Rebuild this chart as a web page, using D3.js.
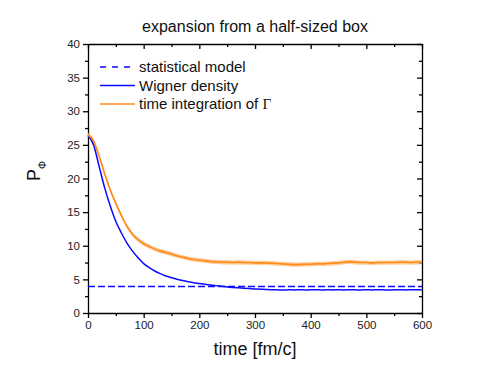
<!DOCTYPE html>
<meta charset="utf-8">
<title>expansion from a half-sized box</title>
<style>
body { margin: 0; background: #fff; }
svg { font-family: "Liberation Sans", Arial, Helvetica, sans-serif; }
.axis path, .axis line { stroke: #000; stroke-width: 1.3px; }
.axis text { font-size: 11.5px; fill: #222; font-family: "Liberation Sans", Arial, sans-serif; }
</style>
<svg id="chart" width="491" height="376"></svg>
<script src="https://cdn.jsdelivr.net/npm/d3@7"></script>
<script>

// time grid in fm/c (every 10 fm/c)
var times = d3.range(0, 601, 10);

// Wigner density (blue)
var wigner = [26.4, 25.0, 21.8, 18.6, 15.9, 13.6, 11.9, 10.4, 9.2, 8.2,
              7.35, 6.75, 6.25, 5.85, 5.5, 5.25, 5.02, 4.82, 4.65, 4.5,
              4.38, 4.27, 4.17, 4.07, 3.98, 3.88, 3.8, 3.74, 3.68, 3.63,
              3.58, 3.55, 3.5, 3.47, 3.45, 3.42, 3.45, 3.43, 3.46, 3.42,
              3.44, 3.47, 3.42, 3.45, 3.43, 3.47, 3.42, 3.46, 3.44, 3.42,
              3.46, 3.43, 3.47, 3.44, 3.42, 3.45, 3.47, 3.43, 3.45, 3.44, 3.45];

// time integration of Gamma (orange)
var gammaInt = [26.5, 25.6, 23.3, 20.7, 18.3, 16.3, 14.5, 12.9, 11.7, 10.9,
                10.3, 9.9, 9.5, 9.2, 9.0, 8.75, 8.5, 8.3, 8.1, 7.95,
                7.85, 7.75, 7.65, 7.6, 7.55, 7.55, 7.5, 7.55, 7.5, 7.5,
                7.45, 7.45, 7.45, 7.4, 7.35, 7.3, 7.25, 7.2, 7.2, 7.25,
                7.25, 7.3, 7.3, 7.35, 7.4, 7.45, 7.55, 7.6, 7.55, 7.5,
                7.5, 7.45, 7.5, 7.5, 7.5, 7.5, 7.55, 7.55, 7.5, 7.55, 7.55];
var gammaErr = 0.32;

// statistical model (constant)
var statModel = 3.95;

var xTicks = [0, 100, 200, 300, 400, 500, 600];
var yTicks = [0, 5, 10, 15, 20, 25, 30, 35, 40];

var svg = d3.select("#chart"),
    x0 = 88, x1 = 422, yTop = 44, yBottom = 313;

var x = d3.scaleLinear().domain([0, 600]).range([x0, x1]);
var y = d3.scaleLinear().domain([0, 40]).range([yBottom, yTop]);

var xMinor = d3.range(50, 600, 100);
var yMinor = d3.range(2.5, 40, 5);

// minor ticks
svg.append("g").attr("class", "axis").attr("transform", "translate(0," + yBottom + ")")
    .call(d3.axisBottom(x).tickValues(xMinor).tickSize(3).tickFormat(""))
    .select(".domain").remove();
svg.append("g").attr("class", "axis").attr("transform", "translate(0," + yTop + ")")
    .call(d3.axisTop(x).tickValues(xMinor).tickSize(-3).tickFormat(""))
    .select(".domain").remove();
svg.append("g").attr("class", "axis").attr("transform", "translate(" + x0 + ",0)")
    .call(d3.axisLeft(y).tickValues(yMinor).tickSize(3).tickFormat(""))
    .select(".domain").remove();
svg.append("g").attr("class", "axis").attr("transform", "translate(" + x1 + ",0)")
    .call(d3.axisRight(y).tickValues(yMinor).tickSize(-3).tickFormat(""))
    .select(".domain").remove();

// major axes
svg.append("g").attr("class", "axis").attr("transform", "translate(0," + yBottom + ")")
    .call(d3.axisBottom(x).tickValues(xTicks).tickSize(5).tickSizeOuter(0).tickPadding(3));
svg.append("g").attr("class", "axis").attr("transform", "translate(0," + yTop + ")")
    .call(d3.axisTop(x).tickValues(xTicks).tickSize(-5).tickSizeOuter(0).tickFormat(""));
svg.append("g").attr("class", "axis").attr("transform", "translate(" + x0 + ",0)")
    .call(d3.axisLeft(y).tickValues(yTicks).tickSize(5).tickSizeOuter(0).tickPadding(3));
svg.append("g").attr("class", "axis").attr("transform", "translate(" + x1 + ",0)")
    .call(d3.axisRight(y).tickValues(yTicks).tickSize(-5).tickSizeOuter(0).tickFormat(""));

var plot = svg.append("g");

// error band for orange
var band = d3.area()
    .curve(d3.curveMonotoneX)
    .x(function(d, i) { return x(times[i]); })
    .y0(function(d) { return y(d - gammaErr); })
    .y1(function(d) { return y(d + gammaErr); });
plot.append("path").datum(gammaInt)
    .attr("d", band)
    .attr("fill", "#ffb366").attr("opacity", 0.65);

var line = d3.line()
    .curve(d3.curveMonotoneX)
    .x(function(d, i) { return x(times[i]); })
    .y(function(d) { return y(d); });

plot.append("path").datum(wigner)
    .attr("d", line).attr("fill", "none")
    .attr("stroke", "#0a0aff").attr("stroke-width", 1.5);

plot.append("path").datum(gammaInt)
    .attr("d", line).attr("fill", "none")
    .attr("stroke", "#ff8a1a").attr("stroke-width", 1.6);

plot.append("line")
    .attr("x1", x(0)).attr("x2", x(600))
    .attr("y1", y(statModel)).attr("y2", y(statModel))
    .attr("stroke", "#0a0aff").attr("stroke-width", 1.5)
    .attr("stroke-dasharray", "7,3");

// legend
var legend = [
  {label: "statistical model", color: "#0a0aff", dash: "6,6", y: 67},
  {label: "Wigner density", color: "#0a0aff", dash: null, y: 85.5},
  {label: "time integration of ", color: "#ff8a1a", dash: null, y: 104}
];
var lg = svg.append("g").selectAll("g").data(legend).enter().append("g");
lg.append("line")
    .attr("x1", 100).attr("x2", 135)
    .attr("y1", function(d) { return d.y; }).attr("y2", function(d) { return d.y; })
    .attr("stroke", function(d) { return d.color; }).attr("stroke-width", 1.5)
    .attr("stroke-dasharray", function(d) { return d.dash; });
var lt = lg.append("text")
    .attr("x", 139).attr("y", function(d) { return d.y + 5; })
    .style("font-size", "15px").attr("fill", "#111")
    .text(function(d) { return d.label; });
lt.filter(function(d, i) { return i === 2; })
  .append("tspan").style("font-family", "'Liberation Serif', 'Times New Roman', serif")
  .text("Γ");

// title and labels
svg.append("text").attr("x", 255).attr("y", 32).attr("text-anchor", "middle")
    .style("font-size", "16px").attr("fill", "#111")
    .text("expansion from a half-sized box");

svg.append("text").attr("x", 255).attr("y", 355).attr("text-anchor", "middle")
    .style("font-size", "18px").attr("fill", "#111")
    .text("time [fm/c]");

var yl = svg.append("text")
    .attr("transform", "translate(40,181) rotate(-90)")
    .attr("text-anchor", "start").attr("fill", "#111")
    .style("font-size", "18px");
yl.append("tspan").text("P");
yl.append("tspan").attr("dy", 6).style("font-size", "10px").text("Φ");

</script>
